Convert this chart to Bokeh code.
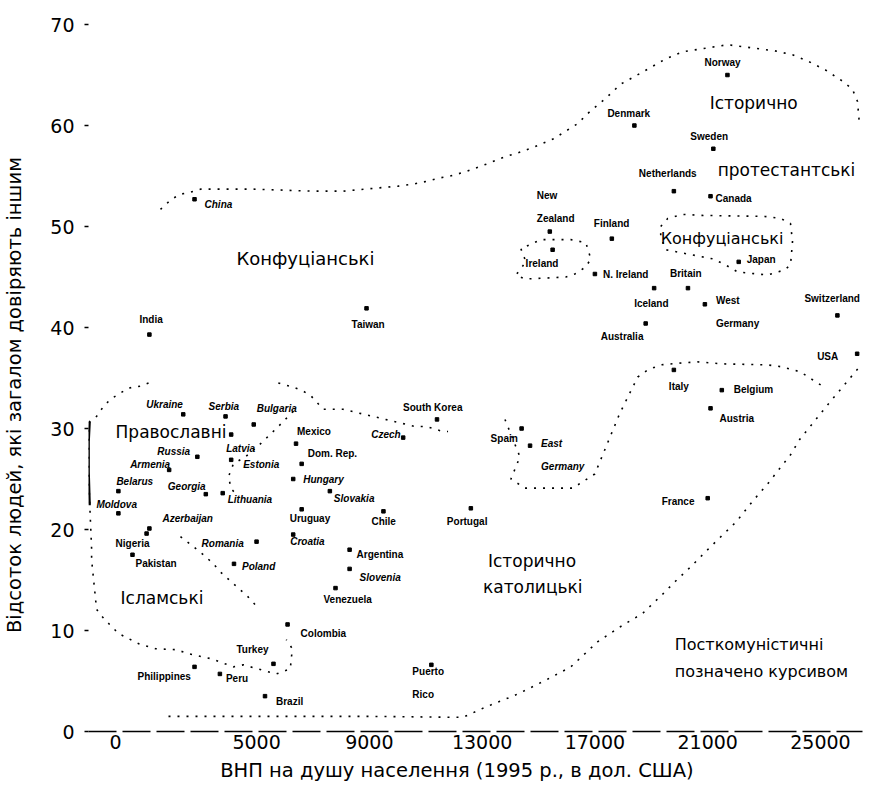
from bokeh.plotting import figure
from bokeh.models import ColumnDataSource, Range1d, FixedTicker
from bokeh.core.properties import value
from bokeh.embed import file_html
from bokeh.resources import INLINE

# ---------------- data ----------------
countries = ["Norway", "Denmark", "Sweden", "Netherlands", "Canada", "Finland",
             "New\nZealand", "Ireland", "N. Ireland", "Britain", "Iceland", "Japan",
             "West\nGermany", "Switzerland", "Australia", "USA", "Taiwan", "China", "India",
             "Italy", "Belgium", "Austria", "France", "Spain", "East\nGermany", "Portugal",
             "South Korea", "Czech", "Chile", "Argentina", "Slovenia", "Venezuela",
             "Colombia", "Turkey", "Peru", "Philippines", "Brazil", "Puerto\nRico",
             "Ukraine", "Serbia", "Bulgaria", "Mexico", "Russia", "Latvia", "Dom. Rep.",
             "Armenia", "Estonia", "Hungary", "Belarus", "Georgia", "Lithuania", "Slovakia",
             "Moldova", "Azerbaijan", "Nigeria", "Pakistan", "Romania", "Uruguay",
             "Croatia", "Poland"]
gnp_1995 = [21700, 18400, 21200, 19800, 21100, 17600,
            15400, 15500, 17000, 20300, 19100, 22100,
            20900, 25600, 18800, 26300, 8900, 2800, 1200,
            19800, 21500, 21100, 21000, 14400, 14700, 12600,
            11400, 10200, 9500, 8300, 8300, 7800,
            6100, 5600, 3700, 2800, 5300, 11200,
            2400, 3900, 4900, 6400, 2900, 4100, 6600,
            1900, 4100, 6300, 100, 3200, 3800, 7600,
            100, 1200, 1100, 600, 5000, 6600,
            6300, 4200]
trust_pct = [65.0, 60.0, 57.7, 53.5, 53.0, 48.8,
             49.5, 47.7, 45.3, 43.9, 43.9, 46.5,
             42.3, 41.2, 40.4, 37.4, 41.9, 52.7, 39.3,
             35.8, 33.8, 32.0, 23.1, 30.0, 28.3, 22.1,
             30.9, 29.1, 21.8, 18.0, 16.1, 14.2,
             10.6, 6.7, 5.7, 6.4, 3.5, 6.6,
             31.4, 31.2, 30.4, 28.5, 27.2, 29.4, 26.5,
             25.9, 26.9, 25.0, 23.8, 23.5, 23.6, 23.8,
             21.6, 20.1, 19.6, 17.5, 18.8, 22.0,
             19.5, 16.6]
ex_communist = {"China", "East\nGermany", "Czech", "Slovenia", "Ukraine", "Serbia",
                "Bulgaria", "Russia", "Latvia", "Armenia", "Estonia", "Hungary",
                "Belarus", "Georgia", "Lithuania", "Slovakia", "Moldova", "Azerbaijan",
                "Romania", "Croatia", "Poland"}

x_ticks = [0, 5000, 9000, 13000, 17000, 21000, 25000]
y_ticks = [0, 10, 20, 30, 40, 50, 60, 70]

# zone boundaries (GNP, trust)
zone_top_x = [1593, 1983, 2302, 2656, 3010, 3931, 4887, 7011, 8073, 10021, 10552, 11083,
              11473, 11862, 12394, 13173, 13810, 14270, 14872, 15545, 16395, 16749, 17386,
              17917, 18696, 19511, 20113, 21706, 23371, 24008, 24610, 25177, 25778, 26133,
              26310, 26380]
zone_top_y = [51.7, 52.7, 53.2, 53.4, 53.7, 53.7, 53.7, 53.5, 53.5, 54.0, 54.2, 54.5,
              54.8, 55.0, 55.4, 56.2, 56.9, 57.3, 57.9, 58.7, 60.2, 61.2, 62.7,
              64.1, 65.3, 66.6, 67.3, 68.0, 67.4, 67.0, 66.3, 65.5, 64.4, 63.6,
              62.4, 60.2]
zone_left_x = [1169, 885, 460, 106, -177, -425, -673, -921, -956, -956, -921, -850, -850,
               -673, -425, 106, 814, 1416, 2160, 2585, 3399, 4178, 4532, 5170, 5701,
               6197, 6268, 6055]
zone_left_y = [34.5, 34.2, 34.0, 33.4, 32.9, 32.2, 31.2, 30.7, 28.7, 25.7, 22.8, 18.1, 17.0,
               12.1, 11.2, 9.7, 8.7, 8.2, 8.1, 7.7, 7.2, 6.4, 6.6, 6.1, 5.7,
               6.2, 8.2, 9.1]
zone_bar_x = [-921, -956, -956, -921]
zone_bar_y = [30.7, 28.7, 25.7, 22.4]
zone_islam_x = [2302, 2762, 3116, 3470, 3718, 4072, 4355, 4710, 5064]
zone_islam_y = [19.3, 18.3, 17.5, 16.6, 15.8, 14.9, 14.2, 13.3, 12.2]
zone_cath_x = [1877, 3470, 4887, 8959, 12323, 13031, 13633, 14093, 14624, 15333, 16147,
               17103, 17917, 18696, 19405, 19865, 20396, 21104, 22025, 22592, 23122,
               23654, 23937, 24256, 25300, 26380]
zone_cath_y = [1.5, 1.5, 1.5, 1.5, 1.4, 2.3, 3.0, 3.5, 4.2, 5.2, 6.4,
               8.9, 10.4, 11.7, 13.6, 14.9, 16.3, 18.3, 20.8, 22.8, 24.5,
               26.4, 27.4, 28.9, 32.5, 36.1]
zone_italy_x = [13810, 14341, 14022, 14518, 16218, 16997, 17882, 18519, 18874, 19334,
                20113, 20644, 21529, 23122, 23654, 24291, 25070]
zone_italy_y = [30.9, 27.2, 25.0, 24.1, 24.1, 25.5, 31.5, 35.1, 35.8, 36.3,
                36.5, 36.6, 36.4, 36.3, 36.1, 35.6, 34.2]
zone_catl_x = [5772, 6303, 6657, 6940, 7365, 8073, 10623, 11012, 11614, 11791]
zone_catl_y = [34.5, 34.1, 33.7, 33.2, 31.9, 31.9, 30.2, 30.2, 29.7, 29.7]
zone_orth_x = [6303, 6020, 5772, 4957, 4603, 4178, 4001, 4108, 4355]
zone_orth_y = [31.7, 30.9, 30.2, 28.0, 27.2, 26.5, 25.2, 24.0, 23.3]
zone_irl_x = [14376, 14554, 14199, 14518, 15970, 16289, 16678, 16855, 16678, 16147, 15085, 14376]
zone_irl_y = [47.8, 46.5, 45.2, 44.8, 45.0, 45.3, 46.0, 46.8, 48.4, 48.7, 48.7, 47.8]
zone_jap_x = [19334, 19582, 20113, 20821, 23017, 23583, 23937, 24008, 23937, 23725, 23122,
              22060, 21635, 21175, 19511, 19334, 19334]
zone_jap_y = [50.0, 50.8, 51.2, 51.1, 51.0, 50.8, 50.3, 48.5, 46.2, 45.7, 45.2,
              45.5, 46.2, 46.8, 47.7, 49.0, 50.0]

zone_names = ["Історично", "протестантські", "Конфуціанські", "Конфуціанські",
              "Православні", "Ісламські", "Історично", "католицькі",
              "Посткомуністичні", "позначено курсивом"]
zone_name_x = [21069, 21352, 4285, 19334, 0, 177, 13208, 13031, 19830, 19830]
zone_name_y = [62.2, 55.6, 46.8, 48.8, 29.7, 13.2, 16.9, 14.3, 8.6, 5.9]

x_title = "ВНП на душу населення (1995 р., в дол. США)"
y_title = "Відсоток людей, які загалом довіряють іншим"

# ---------------- styling (label offsets in px) ----------------
label_dx = [-23, -27, -23, -35, 5, -18,
            -13, -27, 8, -18, -20, 8,
            11, -33, -45, -40, -15, 10, -10,
            -5, 12, 9, -46, -31, 11, -24,
            -34, -32, -12, 7, 10, -12,
            13, -37, 6, -57, 11, -19,
            -37, -17, 3, 1, -40, -5, 6,
            -39, 12, 10, -2, -38, 5, 4,
            -22, 13, -31, 3, -55, -12,
            -3, 8]
label_dy = [-13, -12, -12, -18, 2, -15,
            -25, 14, 1, -15, 15, -2,
            8, -17, 13, 3, 16, 5, -15,
            17, -1, 10, 3, 10, 9, 13,
            -12, -3, 10, 5, 9, 11,
            9, -14, 5, 10, 5, 18,
            -10, -10, -16, -12, -5, 14, -10,
            -5, 5, 0, -10, -8, 6, 7,
            -9, -10, 10, 9, 2, 9,
            7, 3]
zone_font_sizes = ["17px", "17px", "18px", "16px", "17px", "17px", "17px", "17px", "16px", "16px"]
title_pad = "\u00a0" * 6   # shifts the centred axis titles like the original layout

# ---------------- figure ----------------
p = figure(width=866, height=787, output_backend="svg", toolbar_location=None,
           x_range=Range1d(-960, 26490), y_range=Range1d(0, 70.3),
           min_border_left=87, min_border_right=4, min_border_top=21, min_border_bottom=56)
p.outline_line_color = None
p.grid.grid_line_color = None
p.background_fill_color = "white"

# axes
p.xaxis.ticker = FixedTicker(ticks=x_ticks)
p.yaxis.ticker = FixedTicker(ticks=y_ticks)
p.xaxis.axis_label = x_title + title_pad
p.yaxis.axis_label = y_title + title_pad
for ax in (p.xaxis, p.yaxis):
    ax.axis_label_text_font = "DejaVu Sans"
    ax.axis_label_text_font_style = "normal"
    ax.axis_label_text_font_size = "19.5px"
    ax.axis_label_text_color = "black"
    ax.major_label_text_font = "DejaVu Sans"
    ax.major_label_text_font_size = "19px"
    ax.major_label_text_color = "black"
    ax.minor_tick_line_color = None
p.xaxis.axis_line_dash = "28 6"
p.xaxis.axis_line_width = 1.6
p.xaxis.axis_line_color = "black"
p.xaxis.major_tick_line_color = None
p.xaxis.major_tick_out = 0
p.xaxis.major_tick_in = 0
p.xaxis.major_label_standoff = 3
p.xaxis.axis_label_standoff = 7
p.yaxis.axis_line_color = None
p.yaxis.major_tick_in = 0
p.yaxis.major_tick_out = 4
p.yaxis.major_tick_line_color = "black"
p.yaxis.major_tick_line_width = 1.5
p.yaxis.major_label_standoff = 10
p.yaxis.axis_label_standoff = 21

# zone boundaries
boundaries = [(zone_top_x, zone_top_y), (zone_left_x, zone_left_y),
              (zone_islam_x, zone_islam_y), (zone_cath_x, zone_cath_y),
              (zone_italy_x, zone_italy_y), (zone_catl_x, zone_catl_y),
              (zone_orth_x, zone_orth_y), (zone_irl_x, zone_irl_y),
              (zone_jap_x, zone_jap_y)]
for bx, by in boundaries:
    p.line(bx, by, line_color="black", line_width=1.6, line_dash="2 7")
p.line(zone_bar_x, zone_bar_y, line_color="black", line_width=2.5)

# points
p.scatter(gnp_1995, trust_pct, marker="square", size=3.5, color="black")

# country labels
def group(italic):
    idx = [i for i, c in enumerate(countries) if (c in ex_communist) == italic]
    return ColumnDataSource(dict(
        x=[gnp_1995[i] for i in idx], y=[trust_pct[i] for i in idx],
        t=[countries[i] for i in idx],
        dx=[label_dx[i] for i in idx], dy=[label_dy[i] for i in idx]))

for italic in (False, True):
    src = group(italic)
    p.text(x="x", y="y", text="t", x_offset="dx", y_offset="dy", source=src,
           text_font=value("Liberation Sans"), text_font_size="10px",
           text_font_style="bold italic" if italic else "bold",
           text_color="black", text_align="left", text_baseline="middle",
           text_line_height=2.1)

# zone labels
zsrc = ColumnDataSource(dict(x=zone_name_x, y=zone_name_y, t=zone_names, fs=zone_font_sizes))
p.text(x="x", y="y", text="t", source=zsrc, text_font=value("DejaVu Sans"),
       text_font_size="fs", text_color="black", text_align="left", text_baseline="middle")

open("out.html", "w").write(file_html(p, INLINE))
